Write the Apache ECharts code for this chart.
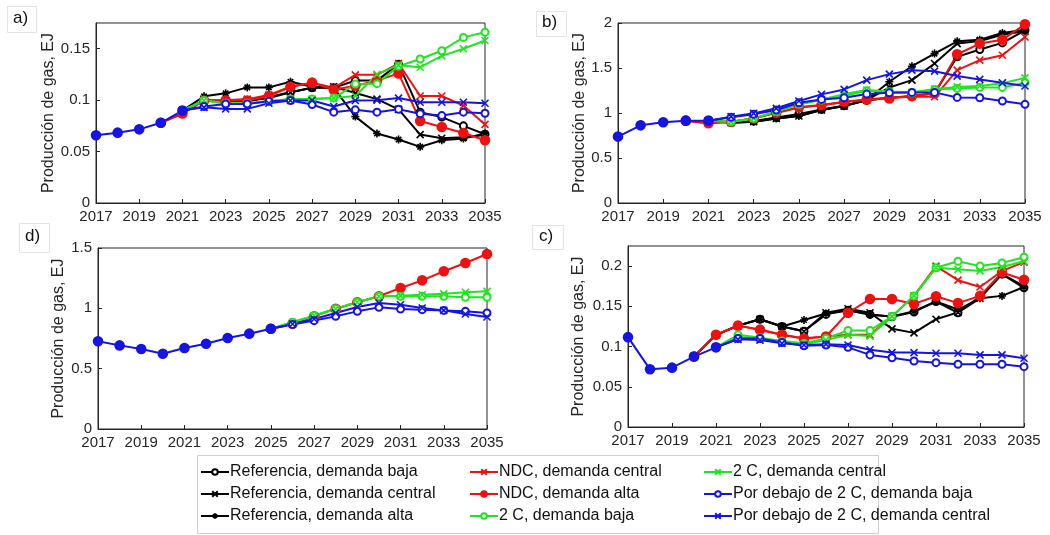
<!DOCTYPE html>
<html><head><meta charset="utf-8">
<script src="https://cdn.jsdelivr.net/npm/echarts@6/dist/echarts.min.js"></script>
<style>html,body{margin:0;padding:0;background:#fff}#c{width:1050px;height:535px}</style>
</head><body><div id="c"></div>
<script>
const years = ['2017','2018','2019','2020','2021','2022','2023','2024','2025','2026','2027','2028','2029','2030','2031','2032','2033','2034','2035'];
const seriesNames = ['Referencia, demanda baja','Referencia, demanda central','Referencia, demanda alta','NDC, demanda central','NDC, demanda alta','2 C, demanda baja','2 C, demanda central','Por debajo de 2 C, demanda baja','Por debajo de 2 C, demanda central'];
const yTitle = 'Producción de gas, EJ';
const panelLabels = ['a)','b)','d)','c)'];
const _ = null;

// Panel a)
const a_hist     = [0.0658,0.0684,0.0716,0.078,0.0899,_,_,_,_,_,_,_,_,_,_,_,_,_,_];
const a_refBaja  = [_,_,_,_,0.0899,0.0996,0.099,0.099,0.103,0.1076,0.112,0.112,0.119,0.119,0.135,0.0883,0.0835,0.075,0.0668];
const a_refCent  = [_,_,_,_,0.0899,0.0996,0.0995,0.0995,0.102,0.1076,0.112,0.113,0.107,0.101,0.091,0.0665,0.063,0.064,0.066];
const a_refAlta  = [_,_,_,_,0.0899,0.1037,0.1066,0.1124,0.1124,0.1178,0.113,0.112,0.084,0.0675,0.0617,0.0546,0.061,0.0626,0.0675];
const a_ndcCent  = [_,_,_,0.078,0.087,0.0996,0.1,0.101,0.105,0.113,0.117,0.112,0.1246,0.1246,0.1356,0.104,0.104,0.0947,0.0764];
const a_ndcAlta  = [_,_,_,0.078,0.087,0.0996,0.0996,0.0996,0.104,0.113,0.117,0.11,0.114,0.119,0.126,0.0797,0.0739,0.068,0.061];
const a_c2Baja   = [_,_,_,_,0.0899,0.0996,0.097,0.097,0.099,0.101,0.101,0.102,0.1156,0.116,0.133,0.14,0.148,0.161,0.166];
const a_c2Cent   = [_,_,_,_,0.0899,0.0996,0.097,0.097,0.099,0.101,0.101,0.102,0.104,0.125,0.134,0.132,0.143,0.15,0.158];
const a_b2Baja   = [_,_,_,_,0.0899,0.0938,0.0963,0.0963,0.099,0.0996,0.0957,0.0883,0.0906,0.0883,0.0912,0.0867,0.085,0.0883,0.0873];
const a_b2Cent   = [_,_,_,_,0.0899,0.093,0.0915,0.0915,0.097,0.0996,0.0996,0.0938,0.0996,0.1,0.102,0.098,0.098,0.098,0.097];

// Panel b)
const b_hist     = [0.738,0.863,0.897,0.915,0.915,_,_,_,_,_,_,_,_,_,_,_,_,_,_];
const b_refBaja  = [_,_,_,_,0.915,0.9,0.91,0.95,0.99,1.04,1.08,1.14,1.17,1.19,1.22,1.624,1.705,1.779,1.919];
const b_refCent  = [_,_,_,_,0.915,0.893,0.904,0.94,0.967,1.033,1.077,1.144,1.284,1.365,1.55,1.771,1.8,1.87,1.91];
const b_refAlta  = [_,_,_,_,0.915,0.893,0.904,0.94,0.967,1.033,1.077,1.144,1.347,1.52,1.66,1.797,1.815,1.889,1.926];
const b_ndcCent  = [_,_,_,0.915,0.886,0.904,0.94,1.0,1.06,1.085,1.12,1.15,1.173,1.18,1.18,1.476,1.587,1.642,1.845];
const b_ndcAlta  = [_,_,_,0.915,0.886,0.904,0.94,1.004,1.063,1.089,1.125,1.151,1.162,1.188,1.218,1.653,1.771,1.815,1.985];
const b_c2Baja   = [_,_,_,_,0.915,0.904,0.94,1.015,1.096,1.144,1.188,1.247,1.236,1.225,1.262,1.273,1.284,1.284,1.336];
const b_c2Cent   = [_,_,_,_,0.915,0.904,0.94,1.015,1.096,1.15,1.21,1.255,1.24,1.23,1.265,1.29,1.3,1.33,1.39];
const b_b2Baja   = [_,_,_,_,0.915,0.952,0.985,1.033,1.114,1.151,1.17,1.21,1.225,1.229,1.229,1.173,1.17,1.133,1.096];
const b_b2Cent   = [_,_,_,_,0.915,0.959,0.996,1.052,1.133,1.207,1.262,1.365,1.432,1.476,1.465,1.41,1.373,1.336,1.3];

// Panel d)
const d_hist     = [0.727,0.693,0.663,0.624,0.671,0.707,0.754,0.79,0.831,_,_,_,_,_,_,_,_,_,_];
const d_refBaja  = [_,_,_,_,_,_,_,_,_,_,_,_,_,_,_,_,_,_,_];
const d_refCent  = [_,_,_,_,_,_,_,_,_,_,_,_,_,_,_,_,_,_,_];
const d_refAlta  = [_,_,_,_,_,_,_,_,_,_,_,_,_,_,_,_,_,_,_];
const d_ndcCent  = [_,_,_,_,_,_,_,_,_,_,_,_,_,_,_,_,_,_,_];
const d_ndcAlta  = [_,_,_,_,_,_,_,_,0.831,0.872,0.934,0.997,1.05,1.1,1.169,1.232,1.307,1.376,1.45];
const d_c2Baja   = [_,_,_,_,_,_,_,_,0.831,0.884,0.939,0.997,1.05,1.1,1.1,1.1,1.1,1.091,1.091];
const d_c2Cent   = [_,_,_,_,_,_,_,_,0.831,0.884,0.939,0.997,1.05,1.1,1.105,1.113,1.12,1.133,1.141];
const d_b2Baja   = [_,_,_,_,_,_,_,_,0.831,0.865,0.898,0.934,0.975,1.008,0.994,0.989,0.983,0.975,0.961];
const d_b2Cent   = [_,_,_,_,_,_,_,_,0.831,0.87,0.912,0.961,1.011,1.044,1.03,1.003,0.983,0.953,0.928];

// Panel c)
const c_hist     = [0.1117,0.0717,0.0738,0.0875,0.099,_,_,_,_,_,_,_,_,_,_,_,_,_,_];
const c_refBaja  = [_,_,_,0.0875,0.1146,0.126,0.134,0.125,0.119,0.14,0.145,0.14,0.137,0.143,0.156,0.142,0.162,0.19,0.173];
const c_refCent  = [_,_,_,0.0875,0.1146,0.126,0.134,0.125,0.119,0.142,0.147,0.142,0.122,0.117,0.134,0.1425,0.16,0.19,0.175];
const c_refAlta  = [_,_,_,0.0875,0.1146,0.126,0.134,0.125,0.133,0.141,0.145,0.1396,0.1375,0.144,0.156,0.146,0.16,0.163,0.174];
const c_ndcCent  = [_,_,_,0.0875,0.1146,0.126,0.121,0.1146,0.11,0.1125,0.1146,0.1146,0.1375,0.163,0.2,0.1825,0.174,0.194,0.205];
const c_ndcAlta  = [_,_,_,0.0875,0.1146,0.126,0.121,0.1146,0.11,0.1125,0.142,0.159,0.159,0.153,0.1625,0.154,0.163,0.192,0.183];
const c_c2Baja   = [_,_,_,_,0.099,0.1146,0.111,0.107,0.104,0.11,0.12,0.12,0.1375,0.163,0.198,0.206,0.2,0.204,0.211];
const c_c2Cent   = [_,_,_,_,0.099,0.112,0.11,0.106,0.103,0.108,0.1146,0.113,0.1375,0.163,0.198,0.196,0.194,0.199,0.206];
const c_b2Baja   = [_,_,_,_,0.099,0.11,0.11,0.105,0.101,0.102,0.099,0.0896,0.086,0.082,0.08,0.078,0.078,0.078,0.075];
const c_b2Cent   = [_,_,_,_,0.099,0.109,0.108,0.104,0.102,0.103,0.102,0.096,0.0925,0.0925,0.0917,0.0917,0.0896,0.0896,0.0854];

const yMax = [0.175, 2, 1.5, 0.225];
const yInterval = [0.05, 0.5, 0.5, 0.05];
const showTopLabel = [false, true, true, false];

const panelData = [
  [a_refBaja,a_refCent,a_refAlta,a_ndcCent,a_ndcAlta,a_c2Baja,a_c2Cent,a_b2Baja,a_b2Cent,a_hist],
  [b_refBaja,b_refCent,b_refAlta,b_ndcCent,b_ndcAlta,b_c2Baja,b_c2Cent,b_b2Baja,b_b2Cent,b_hist],
  [d_refBaja,d_refCent,d_refAlta,d_ndcCent,d_ndcAlta,d_c2Baja,d_c2Cent,d_b2Baja,d_b2Cent,d_hist],
  [c_refBaja,c_refCent,c_refAlta,c_ndcCent,c_ndcAlta,c_c2Baja,c_c2Cent,c_b2Baja,c_b2Cent,c_hist]
];

const BLACK='#000000', RED='#f01010', GREEN='#1ee61e', BLUE='#1414e6';
const X_PATH='path://M0,0L10,10M10,0L0,10';
const STAR_PATH='path://M5,0L5,10M0,5L10,5M1.6,1.6L8.4,8.4M8.4,1.6L1.6,8.4';
const styles = [
  {c:BLACK,s:'emptyCircle',size:7},
  {c:BLACK,s:X_PATH,size:7},
  {c:BLACK,s:STAR_PATH,size:8},
  {c:RED,s:X_PATH,size:7},
  {c:RED,s:'circle',size:9},
  {c:GREEN,s:'emptyCircle',size:7},
  {c:GREEN,s:X_PATH,size:7},
  {c:BLUE,s:'emptyCircle',size:7},
  {c:BLUE,s:X_PATH,size:7},
  {c:BLUE,s:'circle',size:9}
];

const grids = [
  {left:96, top:23, width:389, height:180},
  {left:618, top:23, width:407, height:180},
  {left:98, top:248, width:389, height:181},
  {left:628, top:246, width:396, height:181}
];
const nameGaps = [39, 19, 31, 41];
const axisColor = '#262626';
const FONT = 'Liberation Sans, Arial, sans-serif';

const option = {
  animation:false,
  backgroundColor:'#fff',
  textStyle:{fontFamily:FONT},
  grid: grids.map(g=>Object.assign({show:true,borderColor:axisColor,borderWidth:1,containLabel:false},g)),
  xAxis: grids.map((g,i)=>({
    type:'category', gridIndex:i, data:years, boundaryGap:false,
    axisLine:{lineStyle:{color:axisColor,width:1}},
    axisTick:{inside:true,length:4,interval:1,lineStyle:{color:axisColor}},
    axisLabel:{interval:1,color:axisColor,fontSize:15,margin:6,fontFamily:FONT},
    splitLine:{show:false}
  })),
  yAxis: grids.map((g,i)=>({
    type:'value', gridIndex:i, min:0, max:yMax[i], interval:yInterval[i],
    name:yTitle, nameLocation:'middle', nameGap:nameGaps[i],
    nameTextStyle:{color:axisColor,fontSize:16,fontFamily:FONT},
    axisLine:{show:true,lineStyle:{color:axisColor,width:1}},
    axisTick:{show:true,inside:true,length:4,lineStyle:{color:axisColor}},
    axisLabel:{color:axisColor,fontSize:15,margin:6,fontFamily:FONT,showMaxLabel:showTopLabel[i]},
    splitLine:{show:false}
  })),
  legend: [
    {data:seriesNames.slice(0,3), left:200, top:464},
    {data:seriesNames.slice(3,6), left:469, top:464},
    {data:seriesNames.slice(6,9), left:703, top:464}
  ].map(l=>Object.assign({orient:'vertical',itemWidth:28,itemHeight:7,itemGap:6,padding:0,
      textStyle:{fontSize:16,color:'#111',fontFamily:FONT,padding:[0,0,0,-4]}},l)),
  graphic: [
    {type:'rect',shape:{x:197.5,y:455.5,width:681,height:78},style:{fill:'#fff',stroke:'#d0d0d0',lineWidth:1},z:-1},
    {type:'rect',shape:{x:7.5,y:6.5,width:29,height:26},style:{fill:'#fff',stroke:'#e4e4e4'}},
    {type:'text',left:13,top:10,style:{text:panelLabels[0],fontSize:17,fill:'#111',fontFamily:FONT}},
    {type:'rect',shape:{x:536.5,y:11.5,width:30,height:25},style:{fill:'#fff',stroke:'#e4e4e4'}},
    {type:'text',left:542,top:14,style:{text:panelLabels[1],fontSize:17,fill:'#111',fontFamily:FONT}},
    {type:'rect',shape:{x:19.5,y:223.5,width:30,height:29},style:{fill:'#fff',stroke:'#e4e4e4'}},
    {type:'text',left:25,top:228,style:{text:panelLabels[2],fontSize:17,fill:'#111',fontFamily:FONT}},
    {type:'rect',shape:{x:532.5,y:225.5,width:31,height:24},style:{fill:'#fff',stroke:'#e4e4e4'}},
    {type:'text',left:539,top:228,style:{text:panelLabels[3],fontSize:17,fill:'#111',fontFamily:FONT}}
  ],
  series: []
};

panelData.forEach((arrs,p)=>{
  arrs.forEach((arr,k)=>{
    const st = styles[k];
    option.series.push({
      type:'line',
      name: k<9 ? seriesNames[k] : 'Histórico',
      xAxisIndex:p, yAxisIndex:p,
      data:arr,
      symbol:st.s,
      symbolSize: st.size,
      showAllSymbol:true,
      z: 2,
      lineStyle:{color:st.c,width:2},
      itemStyle:{color:st.c, borderColor:st.c, borderWidth:1.6},
      emphasis:{disabled:true},
      connectNulls:false
    });
  });
});

const chart = echarts.init(document.getElementById('c'), null, {renderer:'canvas'});
chart.setOption(option);
</script>
</body></html>
